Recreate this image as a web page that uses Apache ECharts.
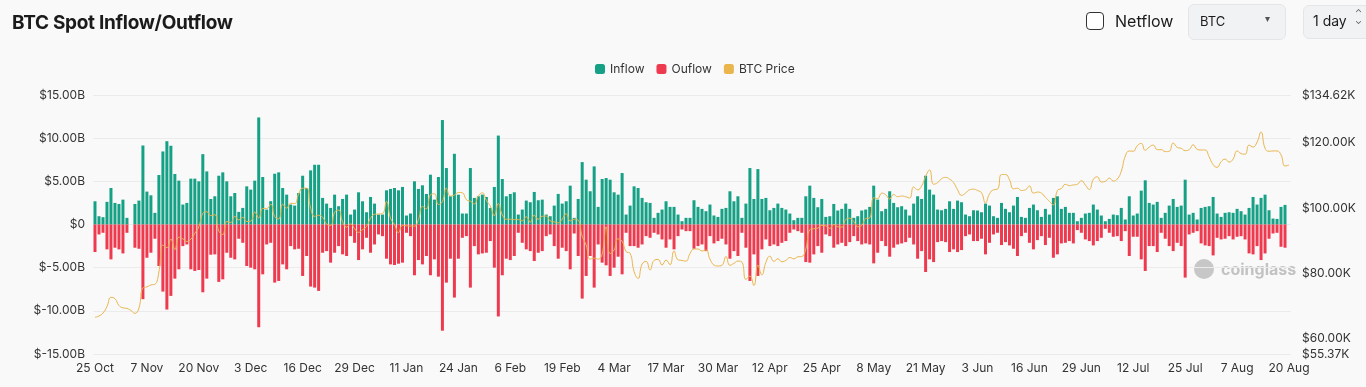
<!DOCTYPE html>
<html><head><meta charset="utf-8">
<script src="https://cdn.jsdelivr.net/npm/echarts@6/dist/echarts.min.js"></script>
<style>
html,body{margin:0;padding:0;background:#f9f9f9;overflow:hidden;}
#chart{position:absolute;left:0;top:0;width:1366px;height:387px;}
.h{position:absolute;font-family:Inter,'Noto Sans',sans-serif;color:#1b1b1b;white-space:nowrap;}
</style></head><body>
<div id="chart"></div>
<div class="h" style="left:12px;top:11px;font-size:19px;font-weight:700;letter-spacing:-0.3px;">BTC Spot Inflow/Outflow</div>
<div class="h" style="left:1086px;top:12px;width:16px;height:16px;border:1.5px solid #333;border-radius:4px;background:#fff;"></div>
<div class="h" style="left:1115px;top:11px;font-size:16px;">Netflow</div>
<div class="h" style="left:1188px;top:4px;width:96px;height:34px;border:1px solid #e3e5e8;border-radius:6px;background:#f1f2f4;"></div>
<div class="h" style="left:1200px;top:13px;font-size:13px;">BTC</div>
<div class="h" style="left:1265px;top:12px;font-size:10px;color:#555;">&#9662;</div>
<div class="h" style="left:1303px;top:5px;width:70px;height:32px;border:1px solid #e3e5e8;border-radius:6px;background:#f1f2f4;"></div>
<div class="h" style="left:1313px;top:12px;font-size:14px;">1 day</div>
<div class="h" style="left:1355px;top:9px;font-size:9px;line-height:8px;color:#555;">&#8963;<br>&#8964;</div>
<script>
// ---- data (values in $B for flows, $K for price) ----
const startDate = [2024, 9, 25]; // 25 Oct 2024, 300 daily points
const inflow = [
2.69,0.96,0.85,2.62,4.23,2.5,2.38,2.88,0.77,0,2.38,2.77,9.15,3.81,3.38,1.35,5.73,8.46,9.65,9.12,5.85,5.08,2.31,2.5,5.31,5.31,5.0,8.15,6.15,2.96,
3.27,5.65,6.04,5.0,3.27,3.65,1.46,1.92,4.42,4.04,5.08,12.4,5.5,1.73,2.7,5.88,6.04,4.23,3.46,2.31,2.19,3.65,5.65,4.23,6.27,6.92,6.92,3.08,2.42,1.92,
3.46,2.12,2.96,3.46,1.15,1.73,3.73,2.69,1.42,3.19,2.42,1.15,1.15,3.96,4.12,4.23,3.96,4.35,1.04,1.27,5.0,4.12,4.54,3.54,5.77,2.88,5.5,12.1,6.54,3.27,
8.19,3.46,1.27,1.27,6.54,3.08,3.27,3.46,3.19,1.92,4.35,10.3,5.27,3.27,3.54,3.73,1.15,1.73,2.77,2.58,3.77,2.81,2.88,1.15,0.96,2.19,3.54,2.42,2.69,4.5,
0.77,2.96,7.23,5.19,3.85,6.73,2.04,5.27,5.38,5.19,3.73,3.46,5.96,1.15,2.19,4.42,4.23,3.08,2.58,2.5,0.77,1.35,1.73,2.69,2.04,2.04,1.15,0.38,0.77,0.77,
2.81,2.04,1.81,1.54,2.31,1.04,0.88,1.81,1.92,3.85,2.69,3.27,0.77,2.42,6.54,2.96,6.42,2.96,3.08,1.65,1.92,2.42,1.92,1.73,1.27,0.5,0.77,0.77,3.27,4.5,
3.08,2.0,2.96,0.88,0.96,2.38,1.62,1.81,2.42,1.81,0.77,0.96,1.62,1.73,2.04,4.5,2.88,1.54,1.81,3.85,2.5,2.0,2.12,1.73,1.04,2.42,3.27,2.96,5.65,4.04,
3.46,1.73,1.65,1.81,2.69,1.81,2.77,2.58,1.15,0.96,1.65,1.62,1.42,2.42,2.19,0.96,0.77,2.5,1.81,1.42,2.19,3.19,0.88,0.77,1.92,2.31,1.65,0.88,1.81,1.15,
3.08,3.27,1.81,2.04,1.35,1.35,0.38,0.77,1.27,1.35,2.31,1.73,1.04,0.38,0.65,1.15,1.08,1.92,0.58,3.27,1.04,1.27,3.92,5.12,2.5,2.31,2.62,0.77,1.35,2.19,
2.96,2.04,2.19,5.19,1.15,1.35,0.58,1.92,2.04,2.12,3.19,1.27,0.88,1.35,1.42,1.35,1.81,1.54,1.15,1.92,3.19,2.31,3.08,3.46,1.65,0.69,0.65,2.04,2.27,0
];
const outflow = [
-3.19,-1.15,-0.96,-2.88,-4.04,-2.69,-2.88,-3.35,-0.96,0,-2.69,-2.81,-8.65,-3.85,-3.27,-1.65,-4.81,-7.77,-9.85,-8.27,-6.27,-5.19,-2.5,-2.31,-5.19,-5.38,-5.27,-7.85,-6.27,-3.5,
-3.46,-6.65,-6.35,-3.27,-3.85,-4.04,-1.65,-2.12,-4.81,-5.0,-5.19,-11.9,-5.77,-2.31,-2.12,-6.73,-6.54,-4.62,-5.19,-2.5,-2.88,-2.81,-5.96,-3.65,-7.19,-7.31,-7.69,-3.27,-3.08,-4.42,
-3.27,-2.5,-3.46,-3.65,-1.35,-2.12,-4.12,-2.88,-1.54,-3.27,-2.31,-1.15,-1.35,-3.96,-4.62,-4.69,-4.54,-4.42,-0.96,-1.35,-5.88,-4.12,-4.62,-3.65,-5.88,-4.04,-6.04,-12.3,-6.73,-3.96,
-8.46,-3.96,-1.54,-1.35,-7.31,-2.5,-3.46,-3.35,-3.27,-1.92,-5.0,-10.65,-5.88,-3.96,-4.12,-3.65,-0.96,-2.12,-2.88,-3.08,-4.23,-3.27,-3.08,-1.35,-1.15,-2.5,-3.96,-2.69,-3.08,-5.19,
-1.04,-3.65,-8.58,-5.96,-3.65,-7.31,-2.31,-4.42,-4.73,-5.96,-5.0,-3.73,-5.77,-0.96,-2.5,-2.5,-2.69,-2.31,-1.35,-1.54,-0.96,-1.15,-1.73,-2.69,-1.73,-2.88,-1.35,-0.58,-0.77,-0.77,
-2.81,-2.5,-2.31,-3.08,-1.35,-2.19,-1.92,-1.65,-2.31,-3.96,-3.08,-3.65,-0.96,-2.69,-6.54,-3.46,-5.96,-2.88,-1.73,-2.5,-2.31,-2.5,-2.12,-1.92,-0.96,-0.58,-0.77,-0.96,-4.35,-4.42,
-3.46,-2.5,-3.27,-1.15,-1.35,-2.69,-2.31,-2.12,-2.5,-2.04,-1.35,-1.92,-2.31,-2.19,-2.31,-4.5,-3.27,-1.92,-2.5,-3.73,-2.69,-2.31,-2.19,-2.04,-1.54,-2.31,-3.96,-3.08,-5.5,-4.04,
-4.35,-2.04,-1.92,-2.04,-3.19,-2.88,-3.19,-2.96,-1.35,-1.15,-1.92,-1.92,-1.65,-3.46,-2.12,-1.15,-0.96,-2.38,-2.04,-2.42,-2.81,-3.65,-1.35,-0.96,-2.12,-2.88,-1.81,-1.35,-2.38,-1.54,
-3.85,-3.46,-2.19,-2.12,-1.92,-2.19,-0.65,-0.96,-1.73,-1.92,-2.42,-1.92,-1.54,-0.5,-0.96,-1.42,-1.35,-1.92,-0.77,-3.65,-1.42,-1.42,-4.04,-5.38,-2.5,-2.5,-3.19,-0.96,-1.65,-2.5,
-3.08,-2.12,-2.5,-6.15,-1.15,-0.96,-0.77,-2.19,-2.42,-2.5,-3.58,-1.54,-1.73,-1.65,-1.35,-1.73,-1.42,-1.35,-1.73,-3.35,-3.46,-2.5,-4.12,-3.35,-1.65,-1.04,-0.96,-2.58,-2.69,0
];
const btcPrice = [
66.6,67.0,67.9,69.9,72.7,72.3,70.2,
69.5,69.3,68.7,67.8,69.4,75.6,75.9,76.5,76.7,80.5,88.7,87.9,90.5,87.3,91.1,90.6,89.8,90.5,92.3,94.3,98.4,98.9,97.7,98.0,93.0,91.9,95.9,95.6,97.5,96.4,
97.2,95.9,96.0,98.8,97.0,99.9,99.9,101.2,97.4,96.7,101.2,100.0,101.5,101.4,104.3,106.1,106.1,100.0,97.5,97.8,97.2,95.1,94.7,98.7,99.4,95.8,94.2,95.2,93.7,92.6,93.4,
94.4,96.9,98.1,98.2,98.3,102.1,96.9,95.0,92.5,94.7,94.6,94.5,94.5,96.5,100.5,99.8,104.1,104.4,101.1,102.0,106.1,103.7,104.0,104.8,104.7,102.6,102.1,101.3,103.7,104.7,102.4,
100.6,97.7,101.4,97.9,96.6,96.6,96.5,96.5,96.1,97.4,95.7,97.8,96.6,97.5,97.6,96.1,95.8,95.5,96.6,98.3,96.1,96.6,96.3,91.4,88.7,84.4,84.7,84.4,
86.0,94.3,86.1,87.2,90.6,89.9,86.7,86.2,80.6,78.5,82.9,83.7,81.1,84.0,84.3,82.6,84.1,82.7,86.9,84.2,84.0,83.8,86.1,87.5,87.5,86.9,87.2,84.4,82.6,82.3,82.5,
85.2,82.5,83.1,83.8,83.5,78.2,79.2,76.3,82.6,79.6,83.4,85.3,83.7,84.5,83.6,84.0,84.9,84.5,85.1,85.2,87.5,93.4,93.7,93.9,94.7,94.6,93.8,95.0,94.3,94.2,
96.5,96.9,95.9,94.3,94.7,96.8,97.0,103.2,102.9,104.6,104.1,102.8,104.2,103.5,103.7,103.5,103.1,106.5,105.6,106.8,109.7,111.7,107.3,107.8,109.0,109.4,108.9,107.8,105.6,103.9,104.6,
105.6,105.8,105.4,104.7,101.6,104.4,105.6,105.8,110.3,110.3,108.7,105.9,106.1,105.4,105.6,106.8,104.6,104.9,104.6,103.3,102.1,101.0,105.4,106.0,107.3,106.9,107.1,107.3,108.4,107.1,
105.7,108.8,109.6,108.0,108.2,109.2,108.3,108.9,111.3,115.9,117.5,117.4,119.1,119.8,117.7,118.7,119.3,117.9,117.9,117.3,117.4,119.9,118.6,118.3,117.6,117.9,119.4,118.0,117.8,117.8,115.7,
113.3,112.5,114.2,115.0,114.1,115.0,117.5,116.7,116.5,119.3,118.7,120.2,123.3,118.3,117.4,117.5,117.5,116.3,112.9,113.2
];
const flowTicks = [-15, -10, -5, 0, 5, 10, 15];
const priceTicks = [55.37, 60, 80, 100, 120, 134.62];

const MONTHS = ['Jan','Feb','Mar','Apr','May','Jun','Jul','Aug','Sep','Oct','Nov','Dec'];
const categories = [];
for (let i = 0; i < inflow.length; i++) {
  const d = new Date(Date.UTC(startDate[0], startDate[1], startDate[2] + i));
  categories.push(d.getUTCDate() + ' ' + MONTHS[d.getUTCMonth()]);
}

const FONT = 'Inter, "Noto Sans", sans-serif';
const chart = echarts.init(document.getElementById('chart'), null, {renderer: 'canvas'});
chart.setOption({
  animation: false,
  backgroundColor: '#f9f9f9',
  textStyle: {fontFamily: FONT},
  legend: {
    top: 58, left: 590, itemWidth: 10, itemHeight: 10, itemGap: 12, icon: 'roundRect',
    textStyle: {fontSize: 12, color: '#333', fontFamily: FONT},
    data: ['Inflow', 'Ouflow', 'BTC Price']
  },
  grid: {left: 93, right: 75, top: 95, bottom: 33},
  xAxis: {
    type: 'category', data: categories, boundaryGap: true,
    axisLine: {show: false, onZero: false}, axisTick: {show: false},
    axisLabel: {interval: 12, color: '#333', fontSize: 12, margin: 8, fontFamily: FONT}
  },
  yAxis: [{
    type: 'value', min: flowTicks[0], max: flowTicks[flowTicks.length - 1], interval: 5,
    axisLine: {show: false}, axisTick: {show: false},
    axisLabel: {color: '#333', fontSize: 12, margin: 8, fontFamily: FONT,
      formatter: v => v === 0 ? '$0' : '$' + v.toFixed(2) + 'B'},
    splitLine: {lineStyle: {color: '#ebebeb', width: 1}}
  }, {
    type: 'value', position: 'right', min: priceTicks[0], max: priceTicks[priceTicks.length - 1],
    axisLine: {show: false}, axisTick: {show: false}, splitLine: {show: false},
    axisLabel: {customValues: priceTicks, color: '#333', fontSize: 12, margin: 11, fontFamily: FONT,
      formatter: v => '$' + v.toFixed(2) + 'K'}
  }],
  series: [{
    name: 'Inflow', type: 'bar', data: inflow, barWidth: 3, barGap: '-100%',
    itemStyle: {color: '#16a085'}
  }, {
    name: 'Ouflow', type: 'bar', data: outflow, barWidth: 3, barGap: '-100%',
    itemStyle: {color: '#ee3a4f'}
  }, {
    name: 'BTC Price', type: 'line', yAxisIndex: 1, data: btcPrice, smooth: true,
    showSymbol: false, symbol: 'none', itemStyle: {color: '#eab54d'},
    lineStyle: {color: '#eab54d', width: 1}, z: 5
  }],
  graphic: [{
    type: 'circle', left: 1194, top: 259, shape: {r: 10}, style: {fill: 'rgba(150,150,150,0.5)'}, silent: true
  }, {
    type: 'text', left: 1221, top: 262,
    style: {text: 'coinglass', fill: 'rgba(150,150,150,0.55)', font: 'bold 16px ' + FONT}, silent: true
  }]
});
</script>
</body></html>
